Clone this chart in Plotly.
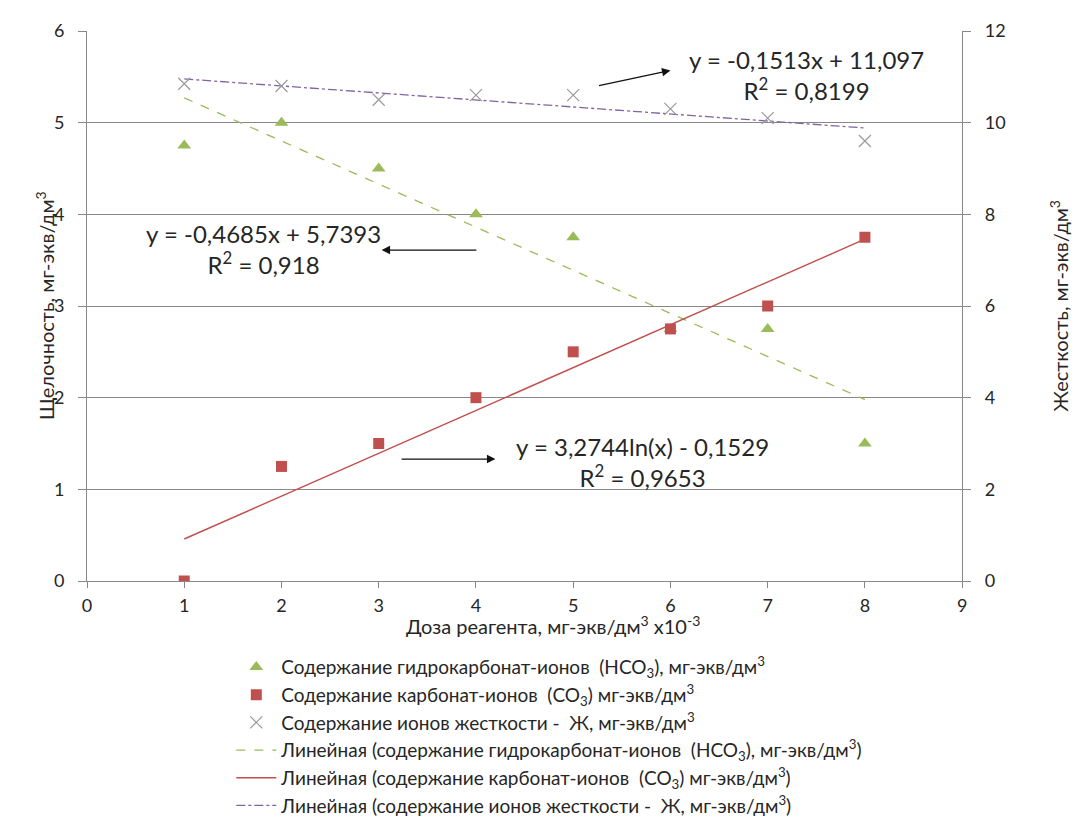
import numpy as np
import plotly.graph_objects as go
from plotly.subplots import make_subplots

dose = [1, 2, 3, 4, 5, 6, 7, 8]
hco3 = [4.75, 5.0, 4.5, 4.0, 3.75, 2.75, 2.75, 1.5]
co3 = [0.0, 1.25, 1.5, 2.0, 2.5, 2.75, 3.0, 3.75]
hard = [10.85, 10.8, 10.5, 10.6, 10.6, 10.3, 10.1, 9.6]

name_hco3 = "Содержание гидрокарбонат-ионов  (HCO<sub>3</sub>), мг-экв/дм<sup>3</sup>"
name_co3 = "Содержание карбонат-ионов  (CO<sub>3</sub>) мг-экв/дм<sup>3</sup>"
name_hard = "Содержание ионов жесткости -  Ж, мг-экв/дм<sup>3</sup>"
name_t1 = "Линейная (содержание гидрокарбонат-ионов  (HCO<sub>3</sub>), мг-экв/дм<sup>3</sup>)"
name_t2 = "Линейная (содержание карбонат-ионов  (CO<sub>3</sub>) мг-экв/дм<sup>3</sup>)"
name_t3 = "Линейная (содержание ионов жесткости -  Ж, мг-экв/дм<sup>3</sup>)"

eq1 = "y = -0,1513x + 11,097<br>R<sup>2</sup> = 0,8199"
eq2 = "y = -0,4685x + 5,7393<br>R<sup>2</sup> = 0,918"
eq3 = "y = 3,2744ln(x) - 0,1529<br>R<sup>2</sup> = 0,9653"

x_title = "Доза реагента, мг-экв/дм<sup>3</sup> x10<sup>-3</sup>"
y1_title = "Щелочность, мг-экв/дм<sup>3</sup>"
y2_title = "Жесткость, мг-экв/дм<sup>3</sup>"

x_arr = np.array(dose, dtype=float)
fit_x = np.array([x_arr.min(), x_arr.max()])
c1 = np.polyfit(x_arr, hco3, 1)
c2 = np.polyfit(x_arr, co3, 1)
c3 = np.polyfit(x_arr, hard, 1)

GREEN = "#9BBB59"
RED = "#C0504D"
PURPLE = "#8064A2"
GRAY = "#9a9a9a"
AX = "#888888"
TXT = "#262626"
FONT = "Lato"

fig = make_subplots(specs=[[{"secondary_y": True}]])

fig.add_trace(go.Scatter(x=fit_x, y=np.polyval(c1, fit_x), mode="lines", name=name_t1,
                         line=dict(color=GREEN, width=1.3, dash="dash"), legendrank=4), secondary_y=False)
fig.add_trace(go.Scatter(x=fit_x, y=np.polyval(c2, fit_x), mode="lines", name=name_t2,
                         line=dict(color=RED, width=1.4), legendrank=5), secondary_y=False)
fig.add_trace(go.Scatter(x=fit_x, y=np.polyval(c3, fit_x), mode="lines", name=name_t3,
                         line=dict(color=PURPLE, width=1.3, dash="dashdot"), legendrank=6), secondary_y=True)

fig.add_trace(go.Scatter(x=dose, y=hco3, mode="markers", name=name_hco3,
                         marker=dict(symbol="triangle-up", size=12, color=GREEN), legendrank=1), secondary_y=False)
fig.add_trace(go.Scatter(x=dose, y=co3, mode="markers", name=name_co3,
                         marker=dict(symbol="square", size=11, color=RED), legendrank=2), secondary_y=False)
fig.add_trace(go.Scatter(x=dose, y=hard, mode="markers", name=name_hard,
                         marker=dict(symbol="x-thin", size=12, color=GRAY, line=dict(color=GRAY, width=1.2)),
                         legendrank=3), secondary_y=True)

tickfont = dict(family=FONT, size=18, color=TXT)
fig.update_xaxes(range=[0, 9], dtick=1, showgrid=False, zeroline=False, showline=True, linecolor=AX,
                 ticks="outside", tickcolor=AX, ticklen=6, tickfont=tickfont, automargin=False,
                 ticklabelstandoff=2)
fig.update_yaxes(range=[0, 6], dtick=1, showgrid=True, gridcolor=AX, gridwidth=1, zeroline=False,
                 showline=True, linecolor=AX, ticks="outside", tickcolor=AX, ticklen=8,
                 tickfont=tickfont, automargin=False, ticklabelstandoff=10, secondary_y=False)
fig.update_yaxes(range=[0, 12], dtick=2, showgrid=False, zeroline=False,
                 showline=True, linecolor=AX, ticks="outside", tickcolor=AX, ticklen=8,
                 tickfont=tickfont, automargin=False, ticklabelstandoff=10, secondary_y=True)

annos = []
for txt, ax, ay in [(eq1, 7.40, 5.52), (eq2, 1.82, 3.62), (eq3, 5.71, 1.30)]:
    annos.append(dict(x=ax, y=ay, xref="x", yref="y", text=txt, showarrow=False,
                      font=dict(family=FONT, size=24, color=TXT), align="center"))
for (hx, hy, tx, ty) in [(6.00, 5.57, 5.25, 5.40), (3.03, 3.61, 4.02, 3.61), (4.20, 1.33, 3.22, 1.33)]:
    annos.append(dict(x=hx, y=hy, xref="x", yref="y", ax=tx, ay=ty, axref="x", ayref="y",
                      text="", showarrow=True, arrowhead=2, arrowsize=1.3, arrowwidth=1.3, arrowcolor="#111"))
titlefont = dict(family=FONT, size=20, color=TXT)
annos.append(dict(x=0.5, y=-0.107, xref="paper", yref="paper", showarrow=False,
                  text=x_title, font=titlefont))
annos.append(dict(x=-0.0612, y=0.5, xref="paper", yref="paper", showarrow=False, textangle=-90,
                  text=y1_title, font=titlefont))
annos.append(dict(x=1.060, y=0.5, xref="paper", yref="paper", showarrow=False, textangle=-90,
                  text=y2_title, font=titlefont))

fig.update_layout(
    width=1082, height=829,
    margin=dict(l=79, r=72, t=23, b=242),
    plot_bgcolor="white", paper_bgcolor="white",
    annotations=annos,
    legend=dict(x=0.155, y=-0.122, xanchor="left", yanchor="top", orientation="v",
                font=dict(family=FONT, size=19, color=TXT), bgcolor="rgba(0,0,0,0)",
                itemwidth=40, tracegroupgap=0),
    showlegend=True,
)

fig.write_html("out.html")
